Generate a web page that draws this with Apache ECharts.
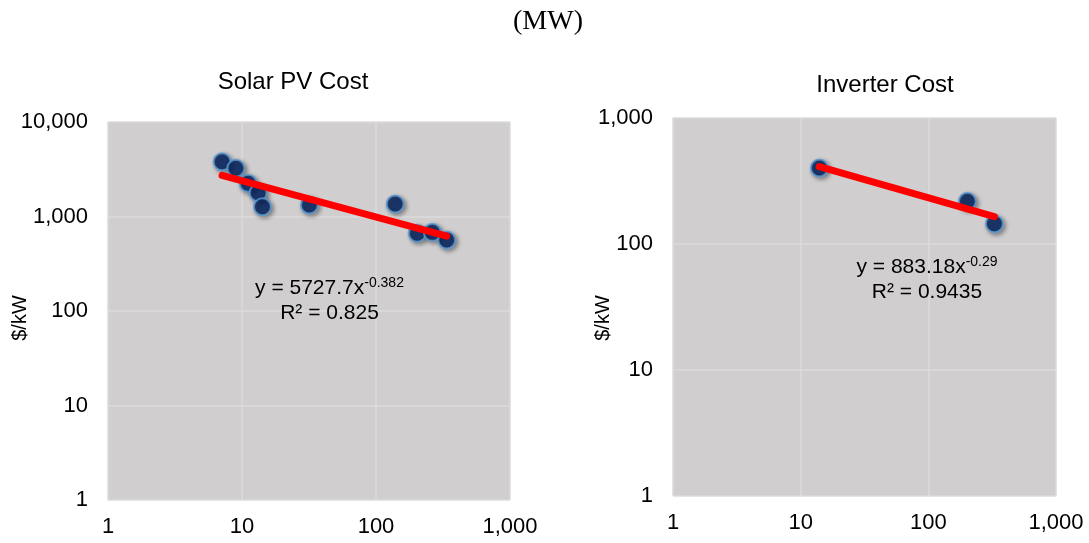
<!DOCTYPE html>
<html><head><meta charset="utf-8">
<script src="https://cdn.jsdelivr.net/npm/echarts@6/dist/echarts.min.js"></script>
<style>html,body{margin:0;padding:0;background:#fff}#c{width:1089px;height:543px}</style>
</head><body><div id="c"></div>
<script>
// Solar PV Cost: capacity (MW) vs cost ($/kW)
const pvCapacity = [7.1, 9.0, 11.1, 13.2, 14.2, 31.8, 139, 203, 263, 337];
const pvCost     = [3800, 3240, 2245, 1786, 1270, 1324, 1356, 664, 680, 564];
const pvTrendX   = [7.1, 337];
const pvTrendY   = [2720, 620];
// Inverter Cost
const invCapacity = [14, 202, 329];
const invCost     = [401, 218, 145];
const invTrendX   = [14, 329];
const invTrendY   = [411, 165];
const xTicks = [1, 10, 100, 1000];
const pvYTicks = [1, 10, 100, 1000, 10000];
const invYTicks = [1, 10, 100, 1000];
const titles = ['Solar PV Cost', 'Inverter Cost'];
const unitLabel = '(MW)';
const yName = '$/kW';
const pvEq = ['y = 5727.7x', '-0.382', 'R² = 0.825'];
const invEq = ['y = 883.18x', '-0.29', 'R² = 0.9435'];

const F = 'Liberation Sans, Arial, sans-serif';
const fmt = v => Number(v).toLocaleString('en-US');
const zip = (a, b) => a.map((v, i) => [v, b[i]]);

function xAxis(gi) {
  return { type: 'log', logBase: 10, min: 1, max: 1000, gridIndex: gi,
    axisLine: { show: false }, axisTick: { show: false },
    axisLabel: { fontFamily: F, fontSize: 22, color: '#000', margin: 16, formatter: fmt },
    splitLine: { show: true, lineStyle: { color: '#dcdbdc', width: 1.5 } } };
}
function yAxis(gi, max) {
  return { type: 'log', logBase: 10, min: 1, max: max, gridIndex: gi,
    axisLine: { show: false }, axisTick: { show: false },
    axisLabel: { fontFamily: F, fontSize: 22, color: '#000', margin: 20, formatter: fmt },
    splitLine: { show: true, lineStyle: { color: '#dcdbdc', width: 1.5 } } };
}
const scatterStyle = { color: '#002060', borderColor: '#5b9bd5', borderWidth: 2,
  shadowBlur: 4, shadowColor: 'rgba(0,0,0,0.45)', shadowOffsetX: 2, shadowOffsetY: 2 };

function txt(text, x, y, size, extra) {
  return Object.assign({ type: 'text', x: x, y: y, z: 100, silent: true,
    style: { text: text, fontFamily: F, fontSize: size, fill: '#000',
      align: 'center', verticalAlign: 'middle' } }, extra || {});
}
function eqText(lines, x, y) {
  return [
    { type: 'text', x: x, y: y, z: 100, silent: true, style: { text: '{a|' + lines[0] + '}{b|' + lines[1] + '}',
      align: 'center', verticalAlign: 'middle',
      rich: { a: { fontFamily: F, fontSize: 21, fill: '#000' },
              b: { fontFamily: F, fontSize: 14, fill: '#000', padding: [0, 0, 10, 0] } } } },
    txt(lines[2], x, y + 25, 21)
  ];
}

const chart = echarts.init(document.getElementById('c'));
chart.setOption({
  animation: false,
  grid: [
    { left: 108, top: 122, width: 402, height: 378, show: true, backgroundColor: '#d0cecf', borderWidth: 0 },
    { left: 673, top: 118, width: 383, height: 378, show: true, backgroundColor: '#d0cecf', borderWidth: 0 }
  ],
  xAxis: [xAxis(0), xAxis(1)],
  yAxis: [yAxis(0, 10000), yAxis(1, 1000)],
  graphic: [
    { type: 'text', x: 548, y: 22, z: 100, silent: true, style: { text: unitLabel, fontFamily: 'Liberation Serif, Times New Roman, serif', fontSize: 28, fill: '#000', align: 'center', verticalAlign: 'middle' } },
    txt(titles[0], 293, 82, 24),
    txt(titles[1], 885, 85, 24),
    txt(yName, 20, 318, 20, { rotation: Math.PI / 2 }),
    txt(yName, 603, 318, 20, { rotation: Math.PI / 2 }),
    ...eqText(pvEq, 329.5, 288),
    ...eqText(invEq, 927, 267)
  ],
  series: [
    { type: 'scatter', xAxisIndex: 0, yAxisIndex: 0, data: zip(pvCapacity, pvCost), symbolSize: 17, itemStyle: scatterStyle, z: 2 },
    { type: 'line', xAxisIndex: 0, yAxisIndex: 0, data: zip(pvTrendX, pvTrendY), symbol: 'none', lineStyle: { color: '#ff0000', width: 7, cap: 'round' }, z: 3 },
    { type: 'scatter', xAxisIndex: 1, yAxisIndex: 1, data: zip(invCapacity, invCost), symbolSize: 17, itemStyle: scatterStyle, z: 2 },
    { type: 'line', xAxisIndex: 1, yAxisIndex: 1, data: zip(invTrendX, invTrendY), symbol: 'none', lineStyle: { color: '#ff0000', width: 7, cap: 'round' }, z: 3 }
  ]
});
</script></body></html>
